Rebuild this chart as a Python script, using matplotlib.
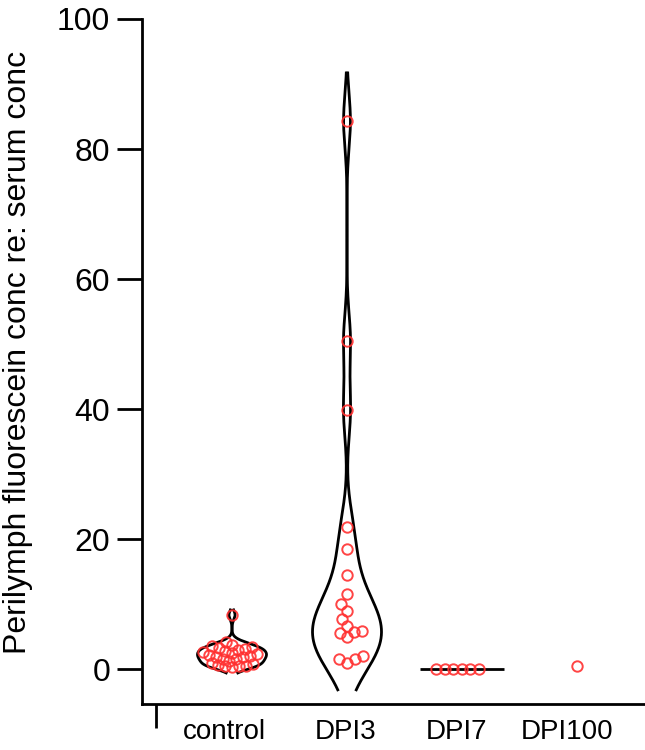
import numpy as np
import matplotlib
matplotlib.use('Agg')
import matplotlib.pyplot as plt

# ---------------- data ----------------
categories = ['control', 'DPI3', 'DPI7', 'DPI100']
control = [0.3, 0.4, 0.5, 0.5, 0.6, 0.7, 1.0, 1.3, 1.5, 1.6, 1.8, 1.9, 2.0,
           2.1, 2.3, 2.5, 2.6, 2.8, 3.0, 3.1, 3.2, 3.4, 3.5, 3.7, 4.1, 8.3]
dpi3 = [1.0, 1.5, 1.6, 2.0, 4.9, 5.6, 5.7, 5.9, 6.6, 7.7, 9.0, 9.95, 11.6,
        14.5, 18.5, 21.8, 39.8, 50.5, 84.3]
dpi7 = [0.0, 0.0, 0.0, 0.0, 0.0, 0.0]
dpi100 = [0.5]
groups = [control, dpi3, dpi7, dpi100]
yticks = [0, 20, 40, 60, 80, 100]
ylabel = 'Perilymph fluorescein conc re: serum conc'

# ---------------- style ----------------
plt.rcParams['font.family'] = ['Liberation Sans', 'DejaVu Sans']
positions = np.arange(1, 5, dtype=float)
label_shift = [-0.07, -0.01, -0.05, -0.09]
lo_ext = [0.9, 4.2]
hi_ext = [0.8, 7.4]
half_width = 0.30
flat_half_width = 0.365
red = '#ff3030'
lw = 2.0
swarm_d = [7.0, 8.5, 8.5, 8.5]

fig = plt.figure(figsize=(6.45, 7.5), dpi=100)
ax = fig.add_axes([142 / 645, 46 / 750, 503 / 645, 685 / 750])
ax.set_xlim(1 - 90 / 115, 1 + 413 / 115)
ax.set_ylim(-5.38, 100)


def silverman(v):
    v = np.asarray(v, float)
    n = len(v)
    sd = np.std(v, ddof=1)
    q75, q25 = np.percentile(v, [75, 25])
    s = min(sd, (q75 - q25) / 1.34)
    return 0.9 * s * n ** -0.2


# violins
for i, vals in enumerate(groups):
    v = np.asarray(vals, float)
    pos = positions[i]
    if len(v) < 2:
        continue
    if np.std(v) == 0:
        ax.plot([pos - flat_half_width, pos + flat_half_width], [v[0], v[0]],
                color='black', lw=lw, solid_capstyle='butt', zorder=2)
        continue
    bw = silverman(v)
    yy = np.linspace(v.min() - lo_ext[i], v.max() + hi_ext[i], 600)
    dens = np.exp(-0.5 * ((yy[:, None] - v[None, :]) / bw) ** 2).sum(axis=1)
    w = dens / dens.max() * half_width
    ax.plot(pos - w, yy, color='black', lw=lw, zorder=2)
    ax.plot(pos + w, yy, color='black', lw=lw, zorder=2)

# beeswarm points (pixel space)
fig.canvas.draw()
trans = ax.transData
for i, vals in enumerate(groups):
    d = swarm_d[i]
    v = np.sort(np.asarray(vals, float))
    pos = positions[i]
    pix_y = trans.transform(np.column_stack([np.full(len(v), pos), v]))[:, 1]
    placed = []
    for py in pix_y:
        cands = [0.0]
        for (px0, py0) in placed:
            dy = abs(py - py0)
            if dy < d:
                dx = np.sqrt(d * d - dy * dy)
                cands += [px0 + dx, px0 - dx]
        cands = sorted(cands, key=lambda c: (abs(c), c))
        for c in cands:
            ok = all((c - px0) ** 2 + (py - py0) ** 2 >= d * d - 1e-6
                     for (px0, py0) in placed)
            if ok:
                placed.append((c, py))
                break
    x0 = trans.transform((pos, 0))[0]
    pts = np.array([(x0 + c, py) for c, py in placed])
    data_pts = trans.inverted().transform(pts)
    ax.plot(data_pts[:, 0], data_pts[:, 1], 'o', mfc='none', mec=red,
            ms=7.5, mew=1.4, zorder=3, alpha=0.9)

# axes styling
for s in ['top', 'right']:
    ax.spines[s].set_visible(False)
for s in ['left', 'bottom']:
    ax.spines[s].set_linewidth(lw)

ax.set_yticks(yticks)
ax.set_yticklabels([str(t) for t in yticks])
ax.tick_params(axis='y', direction='out', length=18, width=lw, labelsize=23,
               pad=5)
ax.set_xticks(positions + np.array(label_shift))
ax.set_xticklabels(categories)
ax.tick_params(axis='x', which='major', length=0, labelsize=20, pad=11)
ax.set_xticks([1 - 76 / 115], minor=True)
ax.tick_params(axis='x', which='minor', direction='out', length=17, width=lw)

fig.text(18 / 645, 1 - 352 / 750, ylabel, rotation=90, ha='center',
         va='center', fontsize=23)

fig.savefig('out.png', dpi=100)
